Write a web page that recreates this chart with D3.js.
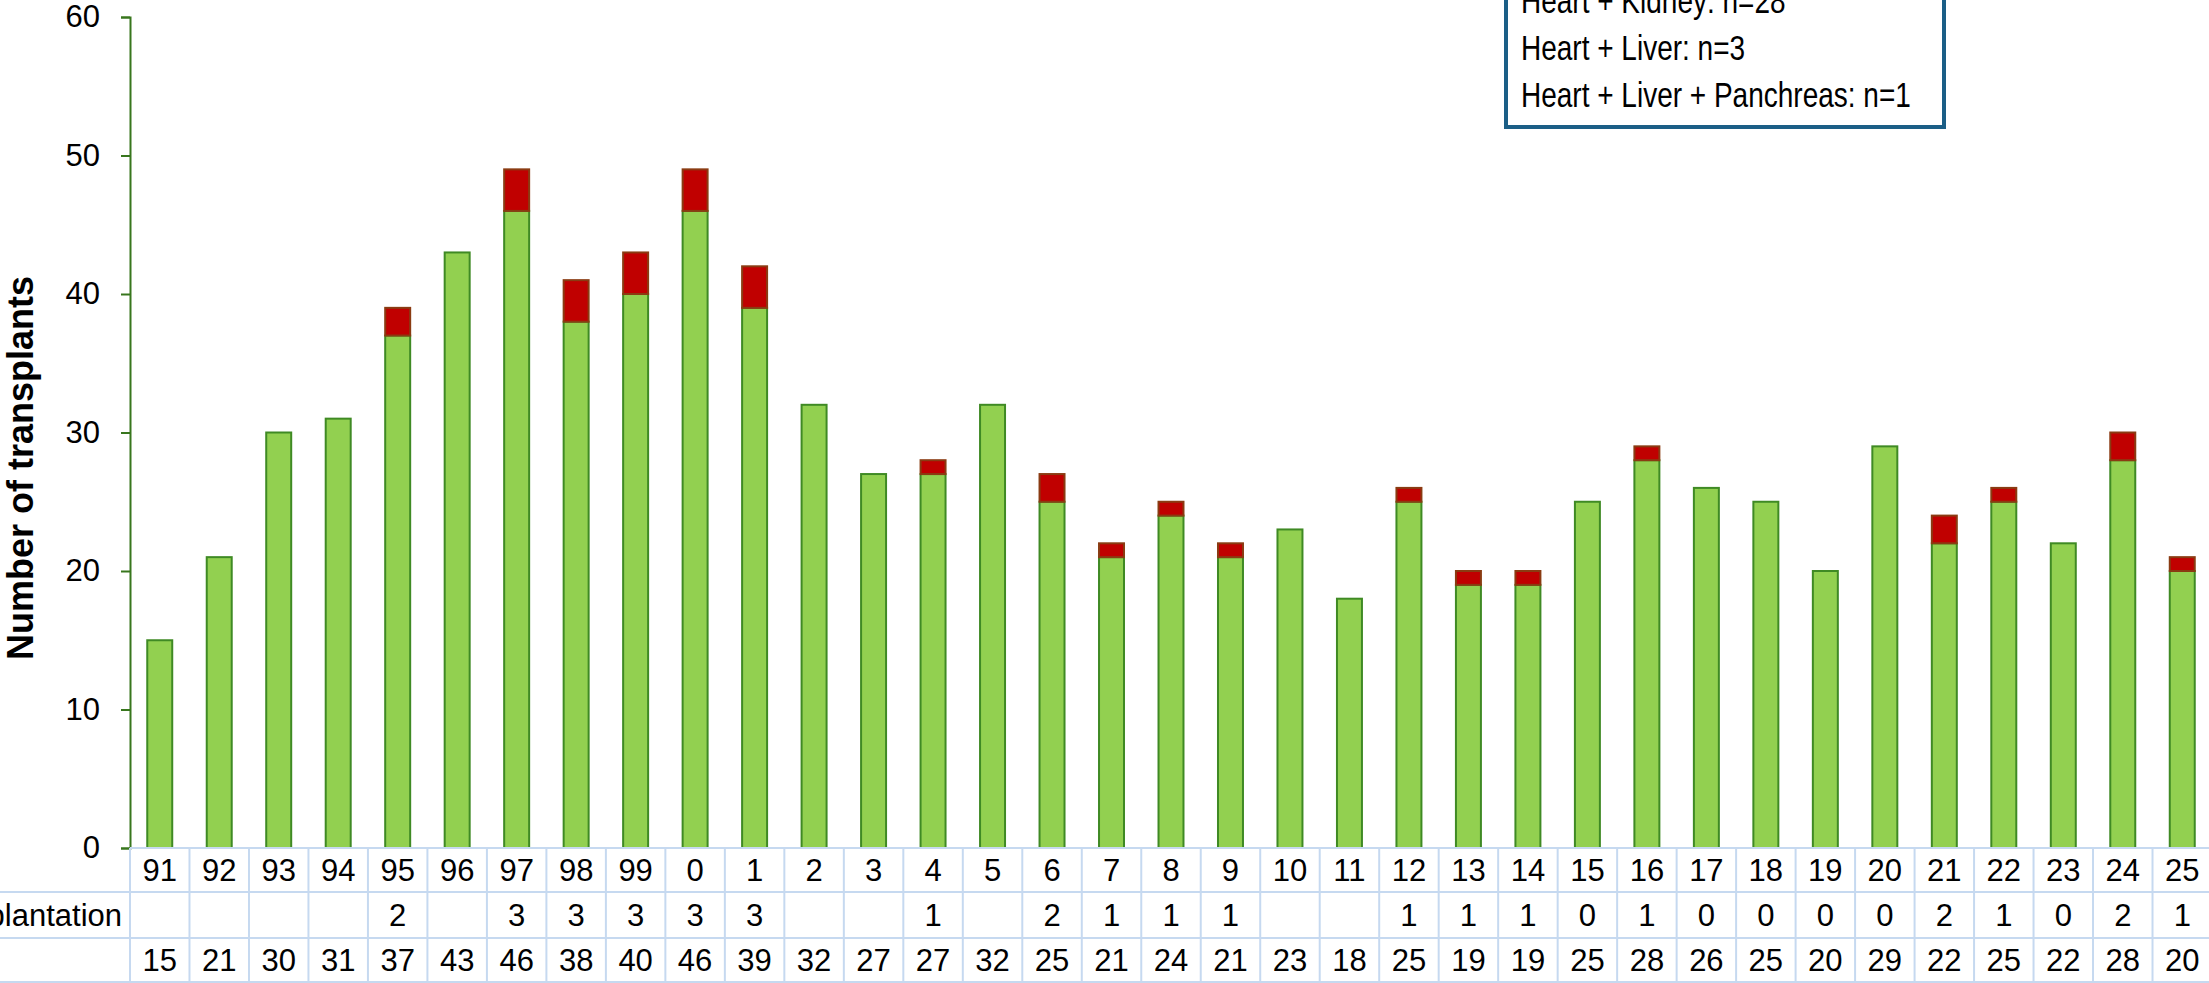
<!DOCTYPE html>
<html>
<head>
<meta charset="utf-8">
<script src="https://cdn.jsdelivr.net/npm/d3@7"></script>
<style>
  body { margin: 0; background: #fff; }
  svg { display: block; font-family: "Liberation Sans", Arial, sans-serif; }
</style>
</head>
<body>
<div id="chart"></div>
<script>
// years, combined transplants (red) and heart-only transplants (green)
var years = ['91','92','93','94','95','96','97','98','99','0','1','2','3','4','5','6','7','8','9',
  '10','11','12','13','14','15','16','17','18','19','20','21','22','23','24','25'];
var combined = [null,null,null,null,2,null,3,3,3,3,3,null,null,1,null,2,1,1,1,
  null,null,1,1,1,0,1,0,0,0,0,2,1,0,2,1];
var heartOnly = [15,21,30,31,37,43,46,38,40,46,39,32,27,27,32,25,21,24,21,
  23,18,25,19,19,25,28,26,25,20,29,22,25,22,28,20];
var yTicks = [0,10,20,30,40,50,60];
var legendLines = ['Heart + Kidney: n=28', 'Heart + Liver: n=3', 'Heart + Liver + Panchreas: n=1'];
var rowLabels = ['', 'Combined transplantation', ''];

var width = 2209, height = 983;
// NOTE: 'top' is a reserved window property, so use other names here
var plotLeft = 130, plotRight = 2212, plotTop = 17, plotBottom = 848;
var rowH = [848, 892, 938, 982];

var svg = d3.select('#chart').append('svg')
  .attr('width', width)
  .attr('height', height);

var x = d3.scaleBand()
  .domain(years)
  .range([plotLeft, plotRight])
  .paddingInner(0.58)
  .paddingOuter(0.29);

var y = d3.scaleLinear()
  .domain([0, 60])
  .range([plotBottom, plotTop]);

// bars: green first, red stacked on top
var bars = svg.append('g');
bars.selectAll('rect.green')
  .data(years)
  .enter().append('rect')
  .attr('class', 'green')
  .attr('x', (d) => x(d))
  .attr('width', x.bandwidth())
  .attr('y', (d, i) => y(heartOnly[i]))
  .attr('height', (d, i) => y(0) - y(heartOnly[i]))
  .attr('fill', '#92d050')
  .attr('stroke', '#3f8a24')
  .attr('stroke-width', 2);

bars.selectAll('rect.red')
  .data(years.filter((d, i) => combined[i]))
  .enter().append('rect')
  .attr('class', 'red')
  .attr('x', (d) => x(d))
  .attr('width', x.bandwidth())
  .attr('y', (d) => { var i = years.indexOf(d); return y(heartOnly[i] + combined[i]); })
  .attr('height', (d) => { var i = years.indexOf(d); return y(heartOnly[i]) - y(heartOnly[i] + combined[i]); })
  .attr('fill', '#c00000')
  .attr('stroke', '#8a3b12')
  .attr('stroke-width', 2);

// Y-axis
var yAxis = d3.axisLeft(y).tickValues(yTicks).tickSize(9).tickPadding(21);
var ya = svg.append('g')
  .attr('transform', `translate(${plotLeft}, 0)`)
  .call(yAxis);
ya.select('.domain').attr('stroke', '#38761d').attr('stroke-width', 2);
ya.selectAll('.tick line').attr('stroke', '#38761d').attr('stroke-width', 2);
ya.selectAll('.tick text')
  .attr('font-size', 31)
  .attr('fill', '#000')
  .attr('font-family', '"Liberation Sans", Arial, sans-serif');

svg.append('text')
  .attr('transform', 'translate(33, 468) rotate(-90)')
  .attr('text-anchor', 'middle')
  .attr('font-size', 36)
  .attr('font-weight', 'bold')
  .text('Number of transplants');

// data table under the axis
var grid = svg.append('g').attr('stroke', '#c6d9f0').attr('stroke-width', 2);
grid.append('line').attr('x1', plotLeft).attr('x2', width).attr('y1', rowH[0]).attr('y2', rowH[0]);
rowH.slice(1).forEach((r) => {
  grid.append('line').attr('x1', 0).attr('x2', width).attr('y1', r).attr('y2', r);
});
var step = x.step();
d3.range(years.length + 1).forEach((k) => {
  var xx = plotLeft + k * step;
  grid.append('line').attr('x1', xx).attr('x2', xx).attr('y1', rowH[0]).attr('y2', rowH[3]);
});

var rows = [years, combined, heartOnly];
rows.forEach((row, r) => {
  var cy = (rowH[r] + rowH[r + 1]) / 2 + 11;
  svg.append('g').selectAll('text')
    .data(row)
    .enter().append('text')
    .attr('x', (d, i) => x(years[i]) + x.bandwidth() / 2)
    .attr('y', cy)
    .attr('text-anchor', 'middle')
    .attr('font-size', 31)
    .text((d) => d === null ? '' : d);
  svg.append('text')
    .attr('x', 122)
    .attr('y', cy)
    .attr('text-anchor', 'end')
    .attr('font-size', 31)
    .text(rowLabels[r]);
});

// legend box (top part is outside the picture)
svg.append('rect')
  .attr('x', 1506)
  .attr('y', -200)
  .attr('width', 438)
  .attr('height', 327)
  .attr('fill', '#fff')
  .attr('stroke', '#1b5e86')
  .attr('stroke-width', 4);

var lg = svg.append('g').attr('transform', 'translate(1521, 0) scale(0.8, 1)');
lg.selectAll('text')
  .data(legendLines)
  .enter().append('text')
  .attr('x', 0)
  .attr('y', (d, i) => 13 + i * 47)
  .attr('font-size', 35)
  .text((d) => d);
</script>
</body>
</html>
